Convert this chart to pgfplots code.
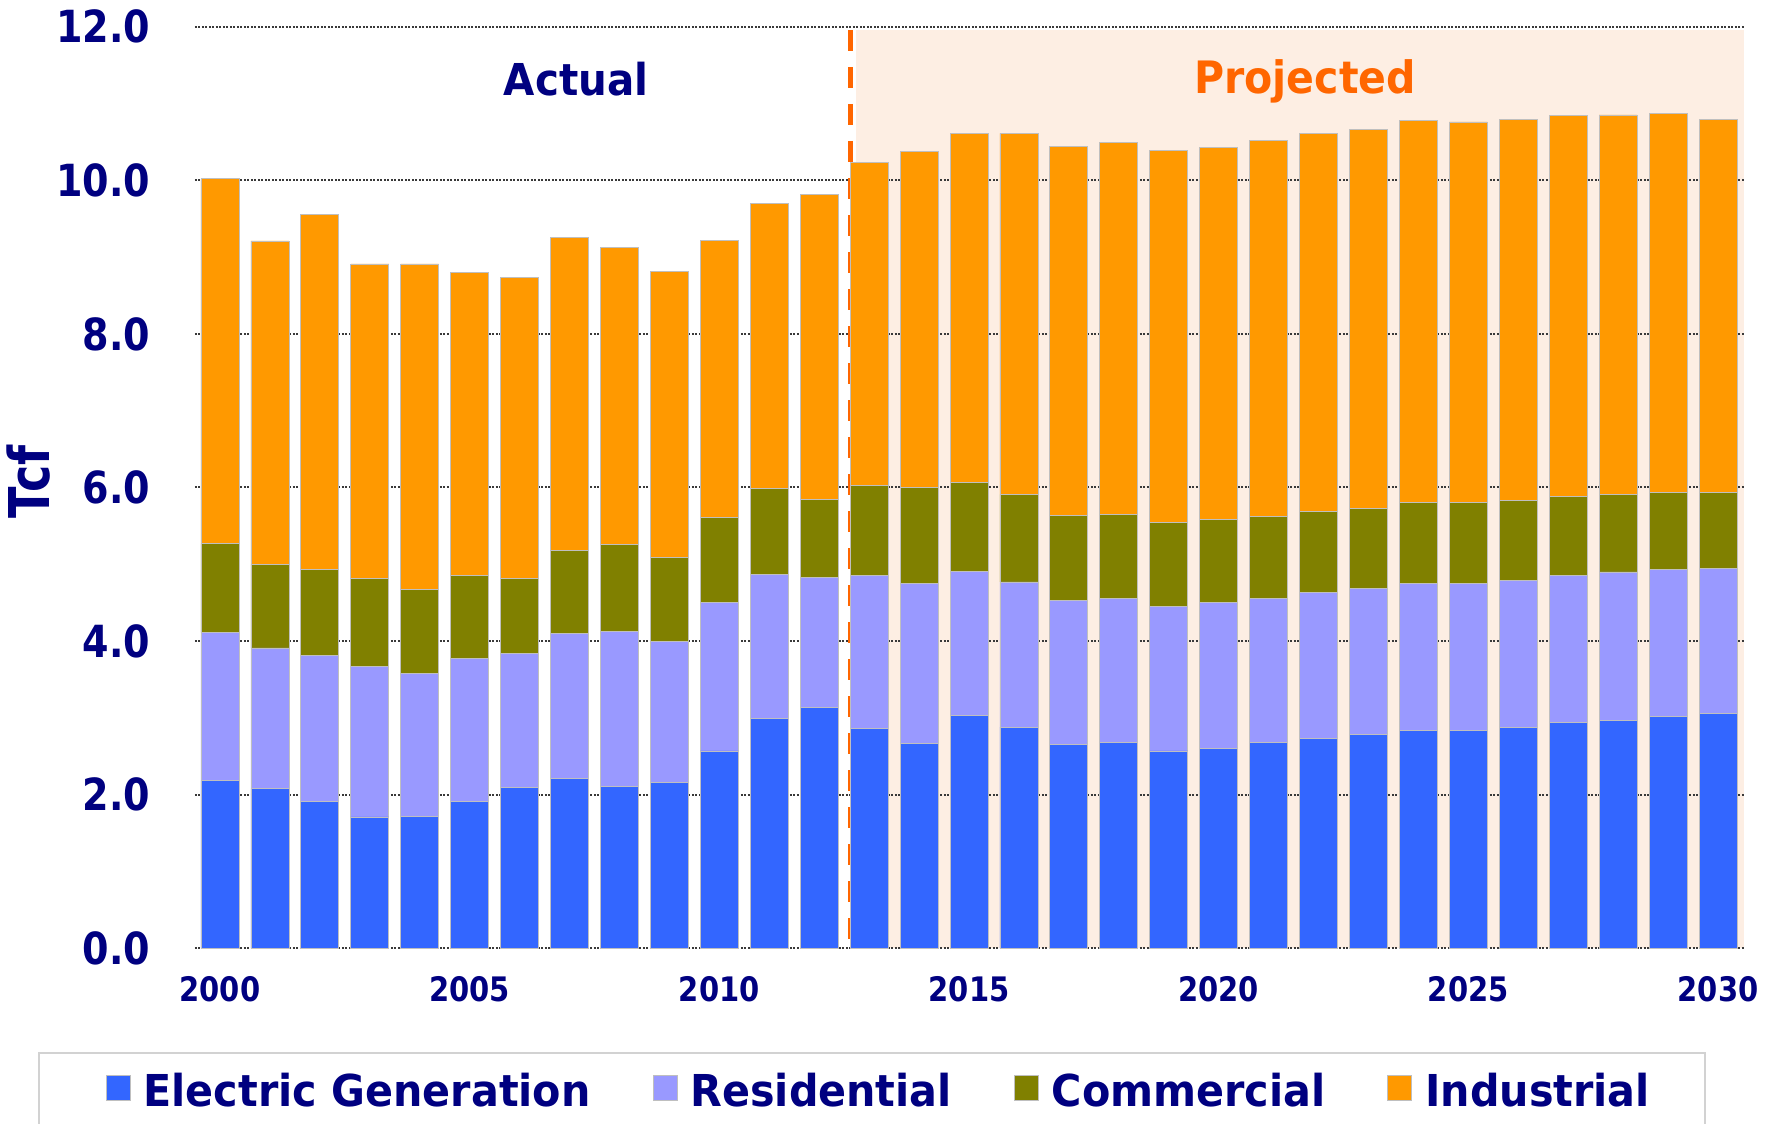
\documentclass[border=0pt]{standalone}
\usepackage{pgfplots}
\pgfplotsset{compat=1.18}
\usepackage{pgfplotstable}
\usepackage{fontspec}
\newfontfamily\fA{DejaVu Sans}[FakeStretch=0.86]
\newfontfamily\fB{DejaVu Sans}[FakeStretch=0.94]
\newfontfamily\fD{DejaVu Sans}[FakeStretch=0.92]
\newfontfamily\fC{DejaVu Sans}[FakeStretch=0.82]
\definecolor{elec}{HTML}{3366FF}
\definecolor{resi}{HTML}{9999FF}
\definecolor{comm}{HTML}{808000}
\definecolor{indu}{HTML}{FF9900}
\definecolor{navy}{HTML}{000080}
\definecolor{projor}{HTML}{FF6600}
\definecolor{shadecol}{HTML}{FDEEE3}

\pgfplotstableread{
year E R C I
2000 2.18 1.93 1.16 4.75
2001 2.08 1.83 1.09 4.21
2002 1.91 1.90 1.12 4.63
2003 1.71 1.96 1.15 4.09
2004 1.72 1.86 1.09 4.24
2005 1.91 1.86 1.08 3.95
2006 2.10 1.74 0.98 3.92
2007 2.21 1.89 1.08 4.08
2008 2.11 2.01 1.14 3.87
2009 2.16 1.83 1.10 3.72
2010 2.57 1.93 1.11 3.61
2011 2.99 1.88 1.12 3.71
2012 3.14 1.69 1.01 3.97
2013 2.86 1.99 1.18 4.20
2014 2.67 2.08 1.25 4.38
2015 3.03 1.88 1.16 4.54
2016 2.88 1.89 1.14 4.70
2017 2.66 1.87 1.11 4.80
2018 2.68 1.88 1.09 4.84
2019 2.57 1.88 1.09 4.85
2020 2.60 1.90 1.08 4.85
2021 2.68 1.88 1.06 4.90
2022 2.73 1.90 1.06 4.92
2023 2.79 1.90 1.04 4.93
2024 2.84 1.91 1.05 4.98
2025 2.84 1.91 1.05 4.96
2026 2.88 1.91 1.04 4.96
2027 2.94 1.91 1.03 4.97
2028 2.97 1.93 1.01 4.94
2029 3.02 1.91 1.00 4.94
2030 3.06 1.88 1.00 4.85
}\gasdata

\begin{document}
\begin{tikzpicture}
\useasboundingbox (-19.5mm,-17.57mm) rectangle (157.2mm,94.83mm);
\fill[shadecol] (66.06mm,0) rectangle (154.9mm,91.85mm);
\begin{axis}[
  at={(0,0)}, anchor=south west,
  scale only axis, width=154.9mm, height=92.16mm,
  xmin=1999.5, xmax=2030.52, ymin=0, ymax=12,
  clip=false,
  axis line style={draw=none},
  major tick length=0pt,
  ybar stacked, bar width=3.8mm,
  xtick={2000,2005,2010,2015,2020,2025,2030},
  xticklabels={2000,2005,2010,2015,2020,2025,2030},
  ytick={0,2,4,6,8,10,12},
  yticklabels={0.0,2.0,4.0,6.0,8.0,10.0,12.0},
  ymajorgrids,
  major grid style={draw=gray!45!black, line width=0.2mm, dash pattern=on 0.2mm off 0.15mm},
  xticklabel style={anchor=north, inner sep=0pt, yshift=-2.77mm, text=navy, font=\fA\bfseries\fontsize{9.6}{11}\selectfont},
  yticklabel style={anchor=east, inner sep=0pt, xshift=-4.4mm, text=navy, font=\fA\bfseries\fontsize{12.6}{14}\selectfont},
  ylabel={Tcf},
  ylabel style={at={(axis description cs:-0.1072,0.506)}, anchor=center, inner sep=0pt, text=navy, font=\fC\bfseries\fontsize{16}{19}\selectfont},
  mylegend/.style={legend image code/.code={\fill[##1] (0mm,-0.75mm) rectangle (2.4mm,1.75mm);}},
  legend columns=4,
  legend style={at={(axis description cs:0,0)}, anchor=west, xshift=-9mm, yshift=-14.45mm,
    draw=none, fill=none, inner sep=0pt,
    nodes={inner sep=0pt, text=navy, font=\fB\bfseries\fontsize{12.5}{15}\selectfont},
    /tikz/every odd column/.append style={column sep=1.3mm},
    /tikz/every even column/.append style={column sep=6.2mm}},
]
\addplot[fill=elec, draw=gray!50, line width=0.08mm, mylegend] table[x=year,y=E]{\gasdata};
\addplot[fill=resi, draw=gray!50, line width=0.08mm, mylegend] table[x=year,y=R]{\gasdata};
\addplot[fill=comm, draw=gray!50, line width=0.08mm, mylegend] table[x=year,y=C]{\gasdata};
\addplot[fill=indu, draw=gray!50, line width=0.08mm, mylegend] table[x=year,y=I]{\gasdata};
\legend{Electric Generation, Residential, Commercial, Industrial}
\draw[projor, line width=0.5mm, dash pattern=on 2.1mm off 1.6mm] (axis cs:2012.63,11.96) -- (axis cs:2012.63,0);
\node[anchor=base, inner sep=0pt, text=navy, font=\fD\bfseries\fontsize{12.5}{15}\selectfont] at (axis cs:2007.13,11.11) {Actual};
\node[anchor=base, inner sep=0pt, text=projor, font=\fD\bfseries\fontsize{12.7}{15}\selectfont] at (axis cs:2021.73,11.13) {Projected};
\end{axis}
\draw[gray!35, line width=0.2mm] (-15.56mm,-25mm) rectangle (151mm,-10.47mm);
\end{tikzpicture}
\end{document}
